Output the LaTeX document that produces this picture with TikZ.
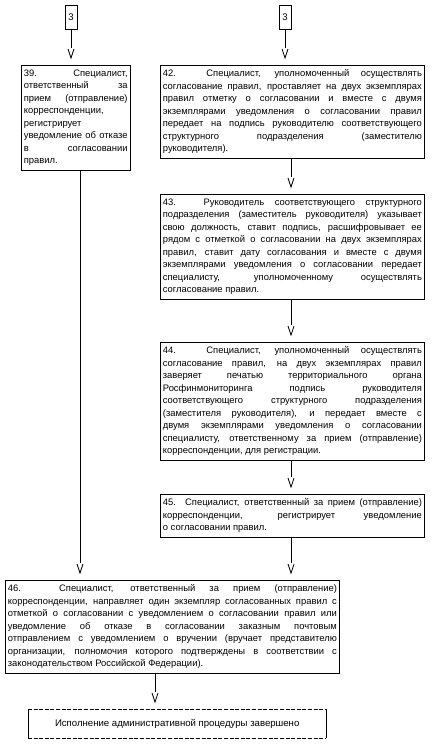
\documentclass[tikz,border=0pt]{standalone}
\usepackage{fontspec}
\setmainfont{Liberation Sans}
\usetikzlibrary{calc}
\tikzset{
  box/.style={draw, line width=0.8pt, anchor=north west, inner xsep=2.5pt, inner ysep=4.5pt,
    align=justify, font=\fontsize{9.4}{12.5}\selectfont,
    execute at begin node={\tolerance=10000\hbadness=10000\hyphenpenalty=10000\exhyphenpenalty=10000}},
  conn/.style={line width=0.8pt},
  numbox/.style={draw, line width=0.8pt, minimum width=12pt, minimum height=24pt, inner sep=0pt,
    font=\fontsize{9.6}{10}\selectfont},
  finbox/.style={draw=none, anchor=north west, minimum width=298pt, minimum height=29pt,
    inner sep=0pt, font=\fontsize{9.6}{10}\selectfont},
  finedge/.style={line width=0.8pt, dash pattern=on 4pt off 1.6pt},
  finside/.style={line width=0.8pt},
}
\newcommand\vconn[3]{%
  \draw[conn] (#1.south -| #3) -- ($(#2.north -| #3)+(0,-17)$) coordinate (vtmp);
  \draw[conn] ($(vtmp)+(-3,1)$) -- ($(vtmp)+(0,10)$) -- ($(vtmp)+(3,1)$);
}
\begin{document}
\begin{tikzpicture}[x=1pt,y=-1pt]
\useasboundingbox (0,0) rectangle (432,746);

\node[numbox] (t1) at (71,17) {3};
\node[numbox] (t2) at (285,17) {3};

\node[box, text width=103.7pt] (b39) at (21,65) {39. Специалист,\linebreak ответственный за\linebreak прием (отправление)\linebreak корреспонденции,\linebreak регистрирует\linebreak уведомление об отказе\linebreak в согласовании\linebreak правил.};

\node[box, text width=259pt] (b42) at (160,65) {42. Специалист, уполномоченный осуществлять\linebreak согласование правил, проставляет на двух экземплярах\linebreak правил отметку о согласовании и вместе с двумя\linebreak экземплярами уведомления о согласовании правил\linebreak передает на подпись руководителю соответствующего\linebreak структурного подразделения (заместителю\linebreak руководителя).};

\node[box, text width=259pt] (b43) at (160,194) {43. Руководитель соответствующего структурного\linebreak подразделения (заместитель руководителя) указывает\linebreak свою должность, ставит подпись, расшифровывает ее\linebreak рядом с отметкой о согласовании на двух экземплярах\linebreak правил, ставит дату согласования и вместе с двумя\linebreak экземплярами уведомления о согласовании передает\linebreak специалисту, уполномоченному осуществлять\linebreak согласование правил.};

\node[box, text width=259pt] (b44) at (160,342) {44. Специалист, уполномоченный осуществлять\linebreak согласование правил, на двух экземплярах правил\linebreak заверяет печатью территориального органа\linebreak Росфинмониторинга подпись руководителя\linebreak соответствующего структурного подразделения\linebreak (заместителя руководителя), и передает вместе с\linebreak двумя экземплярами уведомления о согласовании\linebreak специалисту, ответственному за прием (отправление)\linebreak корреспонденции, для регистрации.};

\node[box, text width=259pt] (b45) at (160,494) {45. Специалист, ответственный за прием (отправление)\linebreak корреспонденции, регистрирует уведомление\linebreak о согласовании правил.};

\node[box, text width=329pt] (b46) at (5,580) {46. Специалист, ответственный за прием (отправление)\linebreak корреспонденции, направляет один экземпляр согласованных правил с\linebreak отметкой о согласовании с уведомлением о согласовании правил или\linebreak уведомление об отказе в согласовании заказным почтовым\linebreak отправлением с уведомлением о вручении (вручает представителю\linebreak организации, полномочия которого подтверждены в соответствии с\linebreak законодательством Российской Федерации).};

\node[finbox] (fin) at (28,709) {Исполнение административной процедуры завершено};
\draw[finedge] (fin.north west) -- (fin.north east);
\draw[finedge] (fin.south west) -- (fin.south east);
\draw[finside] (fin.north west) -- (fin.south west);
\draw[finside] (fin.north east) -- (fin.south east);

\coordinate (xl) at (71,0);
\coordinate (xr) at (285,0);
\coordinate (xc) at (291,0);
\coordinate (xd) at (80,0);
\coordinate (xe) at (155,0);

\vconn{t1}{b39}{xl}
\vconn{t2}{b42}{xr}
\vconn{b42}{b43}{xc}
\vconn{b43}{b44}{xc}
\vconn{b44}{b45}{xc}
\vconn{b45}{b46}{xc}
\vconn{b39}{b46}{xd}
\vconn{b46}{fin}{xe}
\end{tikzpicture}
\end{document}
